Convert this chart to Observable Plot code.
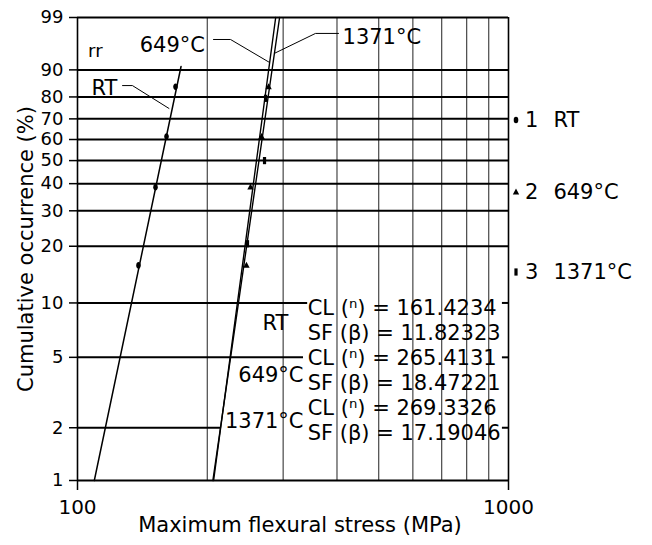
<!DOCTYPE html>
<html>
<head>
<meta charset="utf-8">
<script src="https://cdn.jsdelivr.net/npm/d3@7"></script>
<script src="https://cdn.jsdelivr.net/npm/@observablehq/plot@0.6"></script>
<style>
  body { margin: 0; background: #fff; }
  #chart { position: relative; width: 652px; height: 545px; font-family: "DejaVu Sans", sans-serif; color: #000; }
  .key { position: absolute; left: 511px; display: flex; align-items: center; font-size: 21px; line-height: 26px; white-space: nowrap; }
  .key svg { display: block; }
  .key .num { margin-left: 4px; }
  .key .lab { margin-left: 15px; }
</style>
</head>
<body>
<div id="chart"></div>
<script>
// Weibull plot of flexural strength at three test temperatures

// Probability axis ticks (%), stress grid and labelled stress ticks (MPa)
const pctTicks = [1, 2, 5, 10, 20, 30, 40, 50, 60, 70, 80, 90, 99];
const stressGrid = [200, 300, 400, 500, 600, 700, 800, 900];
const stressTicks = [100, 1000];

// Series and their Weibull fit parameters
const series = ["RT", "649°C", "1371°C"];
const charLife = [161.4234, 265.4131, 269.3326];     // CL (η), MPa
const shapeFactor = [11.82323, 18.47221, 17.19046];  // SF (β)
const fitFromPct = [1, 1, 1];
const fitToPct = [91, 99, 99];

// Measured specimens: stress (MPa) and median-rank occurrence (%)
const rtStress = [138.5, 151.7, 160.9, 168.8];
const rtPct = [15.9, 38.6, 61.4, 84.1];
const t649Stress = [246.6, 252.0, 267.3, 277.5];
const t649Pct = [15.9, 38.6, 61.4, 84.1];
const t1371Stress = [248.0, 271.6, 273.1];
const t1371Pct = [20.6, 50.0, 79.4];

// Weibull probability transform: ln(-ln(1 - F))
const weib = p => Math.log(-Math.log(1 - p / 100));
const fitStress = (eta, beta, p) => eta * Math.pow(-Math.log(1 - p / 100), 1 / beta);

const fits = series.map((name, i) => ({name, eta: charLife[i], beta: shapeFactor[i], from: fitFromPct[i], to: fitToPct[i]}));
const fitLine = name => {
  const f = fits.find(d => d.name === name);
  return [f.from, f.to].map(p => ({stress: fitStress(f.eta, f.beta, p), w: weib(p)}));
};

const toPoints = (stress, pct) => stress.map((s, i) => ({stress: s, w: weib(pct[i])}));
const rtPts = toPoints(rtStress, rtPct);
const p649 = toPoints(t649Stress, t649Pct);
const p1371 = toPoints(t1371Stress, t1371Pct);

const tickLabel = new Map(pctTicks.map(p => [weib(p), String(p)]));

// Grid rows interrupted by the annotation block: gap in MPa along the row
const rowGaps = new Map([
  [10, [342, 968]],
  [5, [334.5, 968]],
  [2, [fitStress(charLife[1], shapeFactor[1], 2), 968]]
]);
const gridRows = pctTicks.flatMap(p => {
  const gap = rowGaps.get(p);
  return gap
    ? [{w: weib(p), x1: 100, x2: gap[0]}, {w: weib(p), x1: gap[1], x2: 1000}]
    : [{w: weib(p), x1: 100, x2: 1000}];
});

// Fit summary block, one CL / SF pair per series
const summary = series.map((s, i) =>
  `CL (ⁿ) = ${charLife[i].toFixed(4)}\nSF (β) = ${shapeFactor[i].toFixed(5)}`).join("\n");

// Leader lines from labels to the fitted lines (MPa, %)
const leaders = [
  {stress: [127.2, 134.1, 163.0], pct: [84.6, 84.6, 74.9]},
  {stress: [206.8, 226.5, 279.1], pct: [96.8, 96.8, 92.1]},
  {stress: [403.3, 356.6, 286.3], pct: [97.6, 97.6, 94.3]}
];

// Marker shapes
const ellipse = {draw(ctx) {
  const rx = 2.3, ry = 3.3, k = 0.5523;
  ctx.moveTo(0, -ry);
  ctx.bezierCurveTo(k * rx, -ry, rx, -k * ry, rx, 0);
  ctx.bezierCurveTo(rx, k * ry, k * rx, ry, 0, ry);
  ctx.bezierCurveTo(-k * rx, ry, -rx, k * ry, -rx, 0);
  ctx.bezierCurveTo(-rx, -k * ry, -k * rx, -ry, 0, -ry);
  ctx.closePath();
}};
const bar = {draw(ctx) { ctx.rect(-1.6, -3.6, 3.2, 7.2); }};
const tri = {draw(ctx) { ctx.moveTo(0, -3.6); ctx.lineTo(3.2, 2.4); ctx.lineTo(-3.2, 2.4); ctx.closePath(); }};

// Labels that sit on the grid get a white backing (added after layout)
const backed = {ariaLabel: "backed-label", fill: "black"};
const one = [0];

const chart = Plot.plot({
  width: 652,
  height: 545,
  marginLeft: 77,
  marginRight: 144,
  marginTop: 17,
  marginBottom: 65,
  x: {type: "log", domain: [100, 1000]},
  y: {type: "linear", domain: [weib(1), weib(99)]},
  style: {fontFamily: "'DejaVu Sans', sans-serif", fontSize: "21px", background: "white", color: "black"},
  marks: [
    Plot.ruleX(stressGrid, {stroke: "#222", strokeWidth: 1}),
    Plot.ruleY(gridRows, {y: "w", x1: "x1", x2: "x2", stroke: "black", strokeWidth: 2}),

    // annotations over the grid
    Plot.text(one, {x: 110, y: weib(94.7), text: () => "rr", fontSize: 18}),
    Plot.text(one, {x: 115.5, y: weib(83.5), text: () => "RT"}),
    Plot.text(one, {x: 166, y: weib(95.8), text: () => "649°C", ...backed}),
    Plot.text(one, {x: 412, y: weib(97.1), text: () => "1371°C", textAnchor: "start", ...backed}),
    Plot.text(one, {x: 288, y: weib(7.7), text: () => "RT", ...backed}),
    Plot.text(one, {x: 334.5, y: weib(3.96), text: () => "649°C", textAnchor: "end", ...backed}),
    Plot.text(one, {x: 334.5, y: weib(2.17), text: () => "1371°C", textAnchor: "end", ...backed}),
    Plot.text(one, {x: 342, y: weib(4.25), text: () => summary, textAnchor: "start", lineAnchor: "middle", lineHeight: 1.19, ...backed}),

    ...leaders.map(l => Plot.line(l.stress.map((s, i) => ({stress: s, w: weib(l.pct[i])})),
      {x: "stress", y: "w", stroke: "black", strokeWidth: 1})),

    // frame sides
    Plot.ruleX(stressTicks, {stroke: "black", strokeWidth: 1.6}),

    // Weibull fits
    Plot.line(fitLine("RT"), {x: "stress", y: "w", stroke: "black", strokeWidth: 1.5}),
    Plot.line(fitLine("649°C"), {x: "stress", y: "w", stroke: "black", strokeWidth: 1.4}),
    Plot.line(fitLine("1371°C"), {x: "stress", y: "w", stroke: "black", strokeWidth: 1.4}),

    // specimens
    Plot.dot(rtPts, {x: "stress", y: "w", symbol: ellipse, fill: "black", r: 3}),
    Plot.dot(p649, {x: "stress", y: "w", symbol: tri, fill: "black", r: 3}),
    Plot.dot(p1371, {x: "stress", y: "w", symbol: bar, fill: "black", r: 3}),

    Plot.axisY(pctTicks.map(weib), {tickFormat: d => tickLabel.get(d), tickSize: 8, tickPadding: 6, fontSize: 18, strokeWidth: 1.5, label: null}),
    Plot.axisX(stressTicks, {tickFormat: d => String(d), tickSize: 10, tickPadding: 9, fontSize: 20, strokeWidth: 1.5, label: null}),

    Plot.text(one, {frameAnchor: "left", textAnchor: "middle", dx: -51, rotate: -90, text: () => "Cumulative occurrence (%)", fontSize: 21}),
    Plot.text(one, {frameAnchor: "bottom", textAnchor: "middle", dx: 7, dy: 51, text: () => "Maximum flexural stress (MPa)", fontSize: 21})
  ]
});

const root = document.getElementById("chart");
root.appendChild(chart);

// white box behind each backed label, sized from its rendered extent
const svgNS = "http://www.w3.org/2000/svg";
d3.select(chart).selectAll('g[aria-label="backed-label"] text').each(function() {
  const b = this.getBBox();
  const r = document.createElementNS(svgNS, "rect");
  r.setAttribute("x", b.x - 3);
  r.setAttribute("y", b.y);
  r.setAttribute("width", b.width + 6);
  r.setAttribute("height", b.height);
  r.setAttribute("fill", "white");
  r.setAttribute("stroke", "none");
  const t = this.getAttribute("transform");
  if (t) r.setAttribute("transform", t);
  this.parentNode.insertBefore(r, this);
});

// Series key beside the frame
const keyShapes = [
  '<ellipse cx="5" cy="7" rx="2.3" ry="3.3" fill="black"/>',
  '<path d="M5,3.4L8.2,9.4L1.8,9.4Z" fill="black"/>',
  '<rect x="3.4" y="3.4" width="3.2" height="7.2" fill="black"/>'
];
const keyTops = [107, 179, 259];
series.forEach((s, i) => {
  const row = document.createElement("div");
  row.className = "key";
  row.style.top = keyTops[i] + "px";
  row.innerHTML = `<svg width="10" height="14">${keyShapes[i]}</svg><span class="num">${i + 1}</span><span class="lab">${s}</span>`;
  root.appendChild(row);
});
</script>
</body>
</html>
